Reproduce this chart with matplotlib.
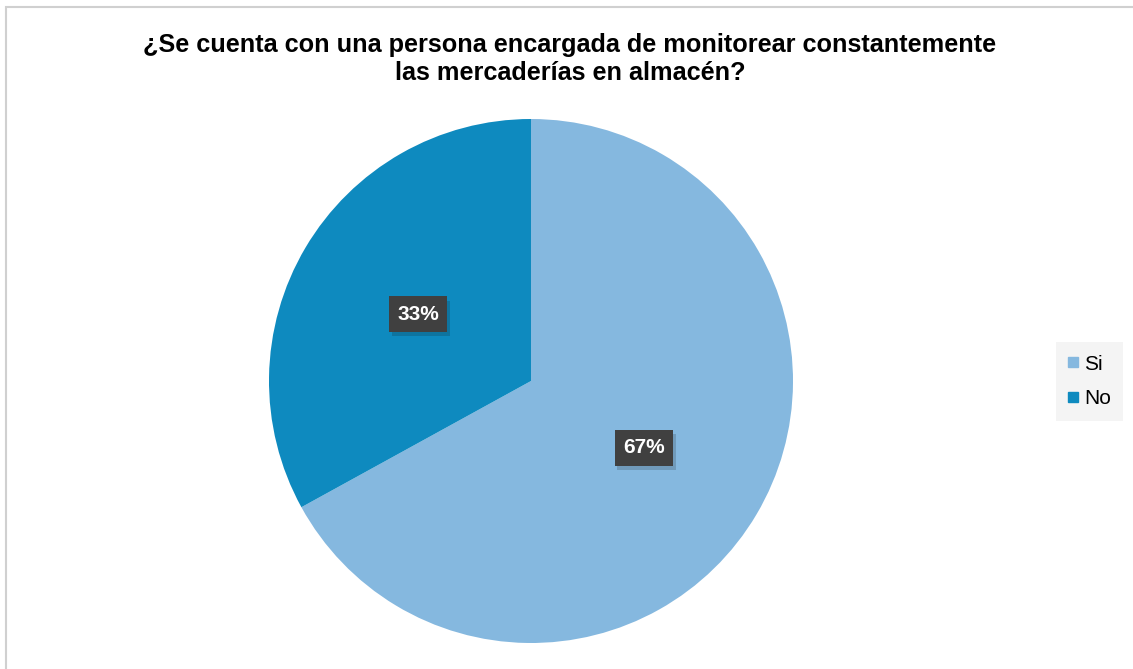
import matplotlib.pyplot as plt
from matplotlib.patches import Rectangle
from matplotlib.lines import Line2D
import matplotlib.patheffects as pe

plt.rcParams['font.family'] = ['Liberation Sans', 'DejaVu Sans']

title = '¿Se cuenta con una persona encargada de monitorear constantemente\nlas mercaderías en almacén?'
labels = ['Si', 'No']
values = [67, 33]
colors = ['#85B8DF', '#0E8ABF']

W, H = 1133, 669
fig = plt.figure(figsize=(W / 100, H / 100), dpi=100)

# light outer border (top and left visible)
fig.patches.append(Rectangle((6 / W, -0.1), 1.2, (H - 7) / H + 0.1, transform=fig.transFigure,
                             fill=False, edgecolor='#D0D0D0', linewidth=1.5))

cx, cy, r = 531, 381, 262
ax = fig.add_axes([(cx - r) / W, (H - cy - r) / H, 2 * r / W, 2 * r / H])

wedges, texts, autotexts = ax.pie(values, colors=colors, startangle=90, counterclock=False,
                                  autopct='%1.0f%%', pctdistance=0.5, radius=1,
                                  wedgeprops=dict(linewidth=0))
for t in autotexts:
  t.set_color('white')
  t.set_fontsize(15)
  t.set_fontweight('bold')
  t.set_bbox(dict(boxstyle='square,pad=0.4', facecolor='#404040', edgecolor='none'))
  t.get_bbox_patch().set_path_effects([pe.SimplePatchShadow(offset=(2, -3), alpha=0.18), pe.Normal()])
ax.set_xlim(-1, 1)
ax.set_ylim(-1, 1)
ax.set_aspect('equal')
ax.axis('off')

fig.text(570 / W, 1 - 59 / H, title, ha='center', va='center', fontsize=18.2,
         fontweight='bold', linespacing=1.22)

handles = [Line2D([], [], marker='s', linestyle='none', markersize=6.8, color=c) for c in colors]
leg = fig.legend(handles, labels, loc='center', bbox_to_anchor=(1089.5 / W, 1 - 381.5 / H),
                 frameon=True, fontsize=15, handletextpad=0.25, labelspacing=0.75,
                 borderpad=0.3, handlelength=0.5, borderaxespad=0)
leg.get_frame().set_facecolor('#F2F2F2')
leg.get_frame().set_edgecolor('none')
leg.get_frame().set_boxstyle('square')

fig.savefig('out.png', dpi=100)
